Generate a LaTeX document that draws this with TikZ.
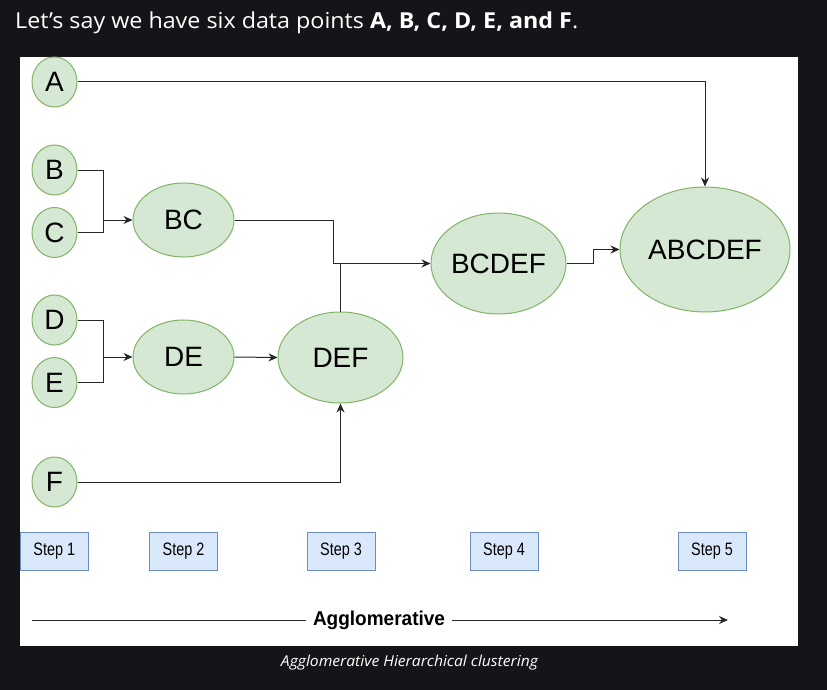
\documentclass[tikz,border=0pt]{standalone}
\usepackage{fontspec}
\setmainfont{Liberation Sans}
\newfontfamily\webfont{Open Sans}
\usetikzlibrary{shapes.geometric,arrows.meta}
\definecolor{pagebg}{HTML}{141519}
\definecolor{nodefill}{HTML}{D5E8D4}
\definecolor{nodeline}{HTML}{82B366}
\definecolor{stepfill}{HTML}{DAE8FC}
\definecolor{stepline}{HTML}{6C8EBF}
\tikzset{
  pt/.style={ellipse, draw=nodeline, fill=nodefill, line width=1pt, inner sep=0pt,
    minimum width=45pt, minimum height=50pt, font=\fontsize{28}{30}\selectfont},
  cluster/.style={ellipse, draw=nodeline, fill=nodefill, line width=1pt, inner sep=0pt,
    font=\fontsize{28}{30}\selectfont},
  stepbox/.style={rectangle, draw=stepline, fill=stepfill, line width=1pt,
    minimum width=68pt, minimum height=38pt, inner sep=0pt,
    font=\fontsize{18}{20}\selectfont},
  conn/.style={line width=1pt, draw=black!85},
  arr/.style={conn, -{Stealth[length=9pt,width=8pt]}},
}
\newcommand{\steplabel}[1]{\scalebox{0.8}[1]{#1}}
\begin{document}
\begin{tikzpicture}[x=1pt,y=-1pt]
\useasboundingbox (0,0) rectangle (827,690);
\fill[pagebg] (0,0) rectangle (827,690);
\fill[white] (20,57) rectangle (798,646);

\node[anchor=base west, text=white, inner sep=0pt, font=\webfont\fontsize{22}{24}\selectfont] (title) at (15,28.3)
  {\resizebox{563pt}{\height}{Let’s say we have six data points \textbf{A, B, C, D, E, and F}.}};

% leaf points
\node[pt] (A) at (54.5,82) {A};
\node[pt] (B) at (54.5,170) {B};
\node[pt] (C) at (54.5,232.5) {C};
\node[pt] (D) at (54.5,320) {D};
\node[pt] (E) at (54.5,382.5) {E};
\node[pt] (F) at (54.5,482) {F};

% clusters
\node[cluster, minimum width=101pt, minimum height=74pt] (BC) at (183.5,220) {BC};
\node[cluster, minimum width=101pt, minimum height=74pt] (DE) at (183.5,357) {DE};
\node[cluster, minimum width=125pt, minimum height=91pt] (DEF) at (340.5,357.5) {DEF};
\node[cluster, minimum width=135pt, minimum height=101pt] (BCDEF) at (498.5,263.5) {BCDEF};
\node[cluster, minimum width=170pt, minimum height=125pt] (ABCDEF) at (705,249.5) {ABCDEF};

% junctions
\coordinate (jBC) at (103,220);
\coordinate (jDE) at (103,357);
\coordinate (jM) at (333,263.5);
\coordinate (kink) at (593,249.5);

\draw[conn] (B.east) -| (jBC);
\draw[conn] (C.east) -| (jBC);
\draw[arr] (jBC) -- (BC.west);
\draw[conn] (D.east) -| (jDE);
\draw[conn] (E.east) -| (jDE);
\draw[arr] (jDE) -- (DE.west);
\draw[arr] (DE.east) -- (DEF.west);
\draw[arr] (F.east) -| (DEF.south);
\draw[conn] (BC.east) -| (jM);
\draw[arr] (jM) -- (BCDEF.west);
\draw[conn] (DEF.north) -- (DEF.north |- jM);
\draw[arr] (BCDEF.east) -| (kink) -- (ABCDEF.west);
\draw[arr] (A.east) -| (ABCDEF.north);

% steps
\node[stepbox] (s1) at (54.3,551) {\steplabel{Step 1}};
\node[stepbox] (s2) at (183.5,551) {\steplabel{Step 2}};
\node[stepbox] (s3) at (341,551) {\steplabel{Step 3}};
\node[stepbox] (s4) at (504,551) {\steplabel{Step 4}};
\node[stepbox] (s5) at (712,551) {\steplabel{Step 5}};

% agglomerative arrow
\coordinate (aL) at (32,620);
\coordinate (aR) at (728,620);
\draw[arr] (aL) -- (aR);
\node[fill=white, inner xsep=7pt, inner ysep=2pt, font=\bfseries\fontsize{20}{22}\selectfont] (agg) at (379,620) {\scalebox{0.95}[1]{Agglomerative}};

\node[anchor=base, text=white, inner sep=0pt, font=\webfont\itshape\fontsize{15}{18}\selectfont] (cap) at (409.5,666.3) {\resizebox{257pt}{\height}{Agglomerative Hierarchical clustering}};
\end{tikzpicture}
\end{document}
